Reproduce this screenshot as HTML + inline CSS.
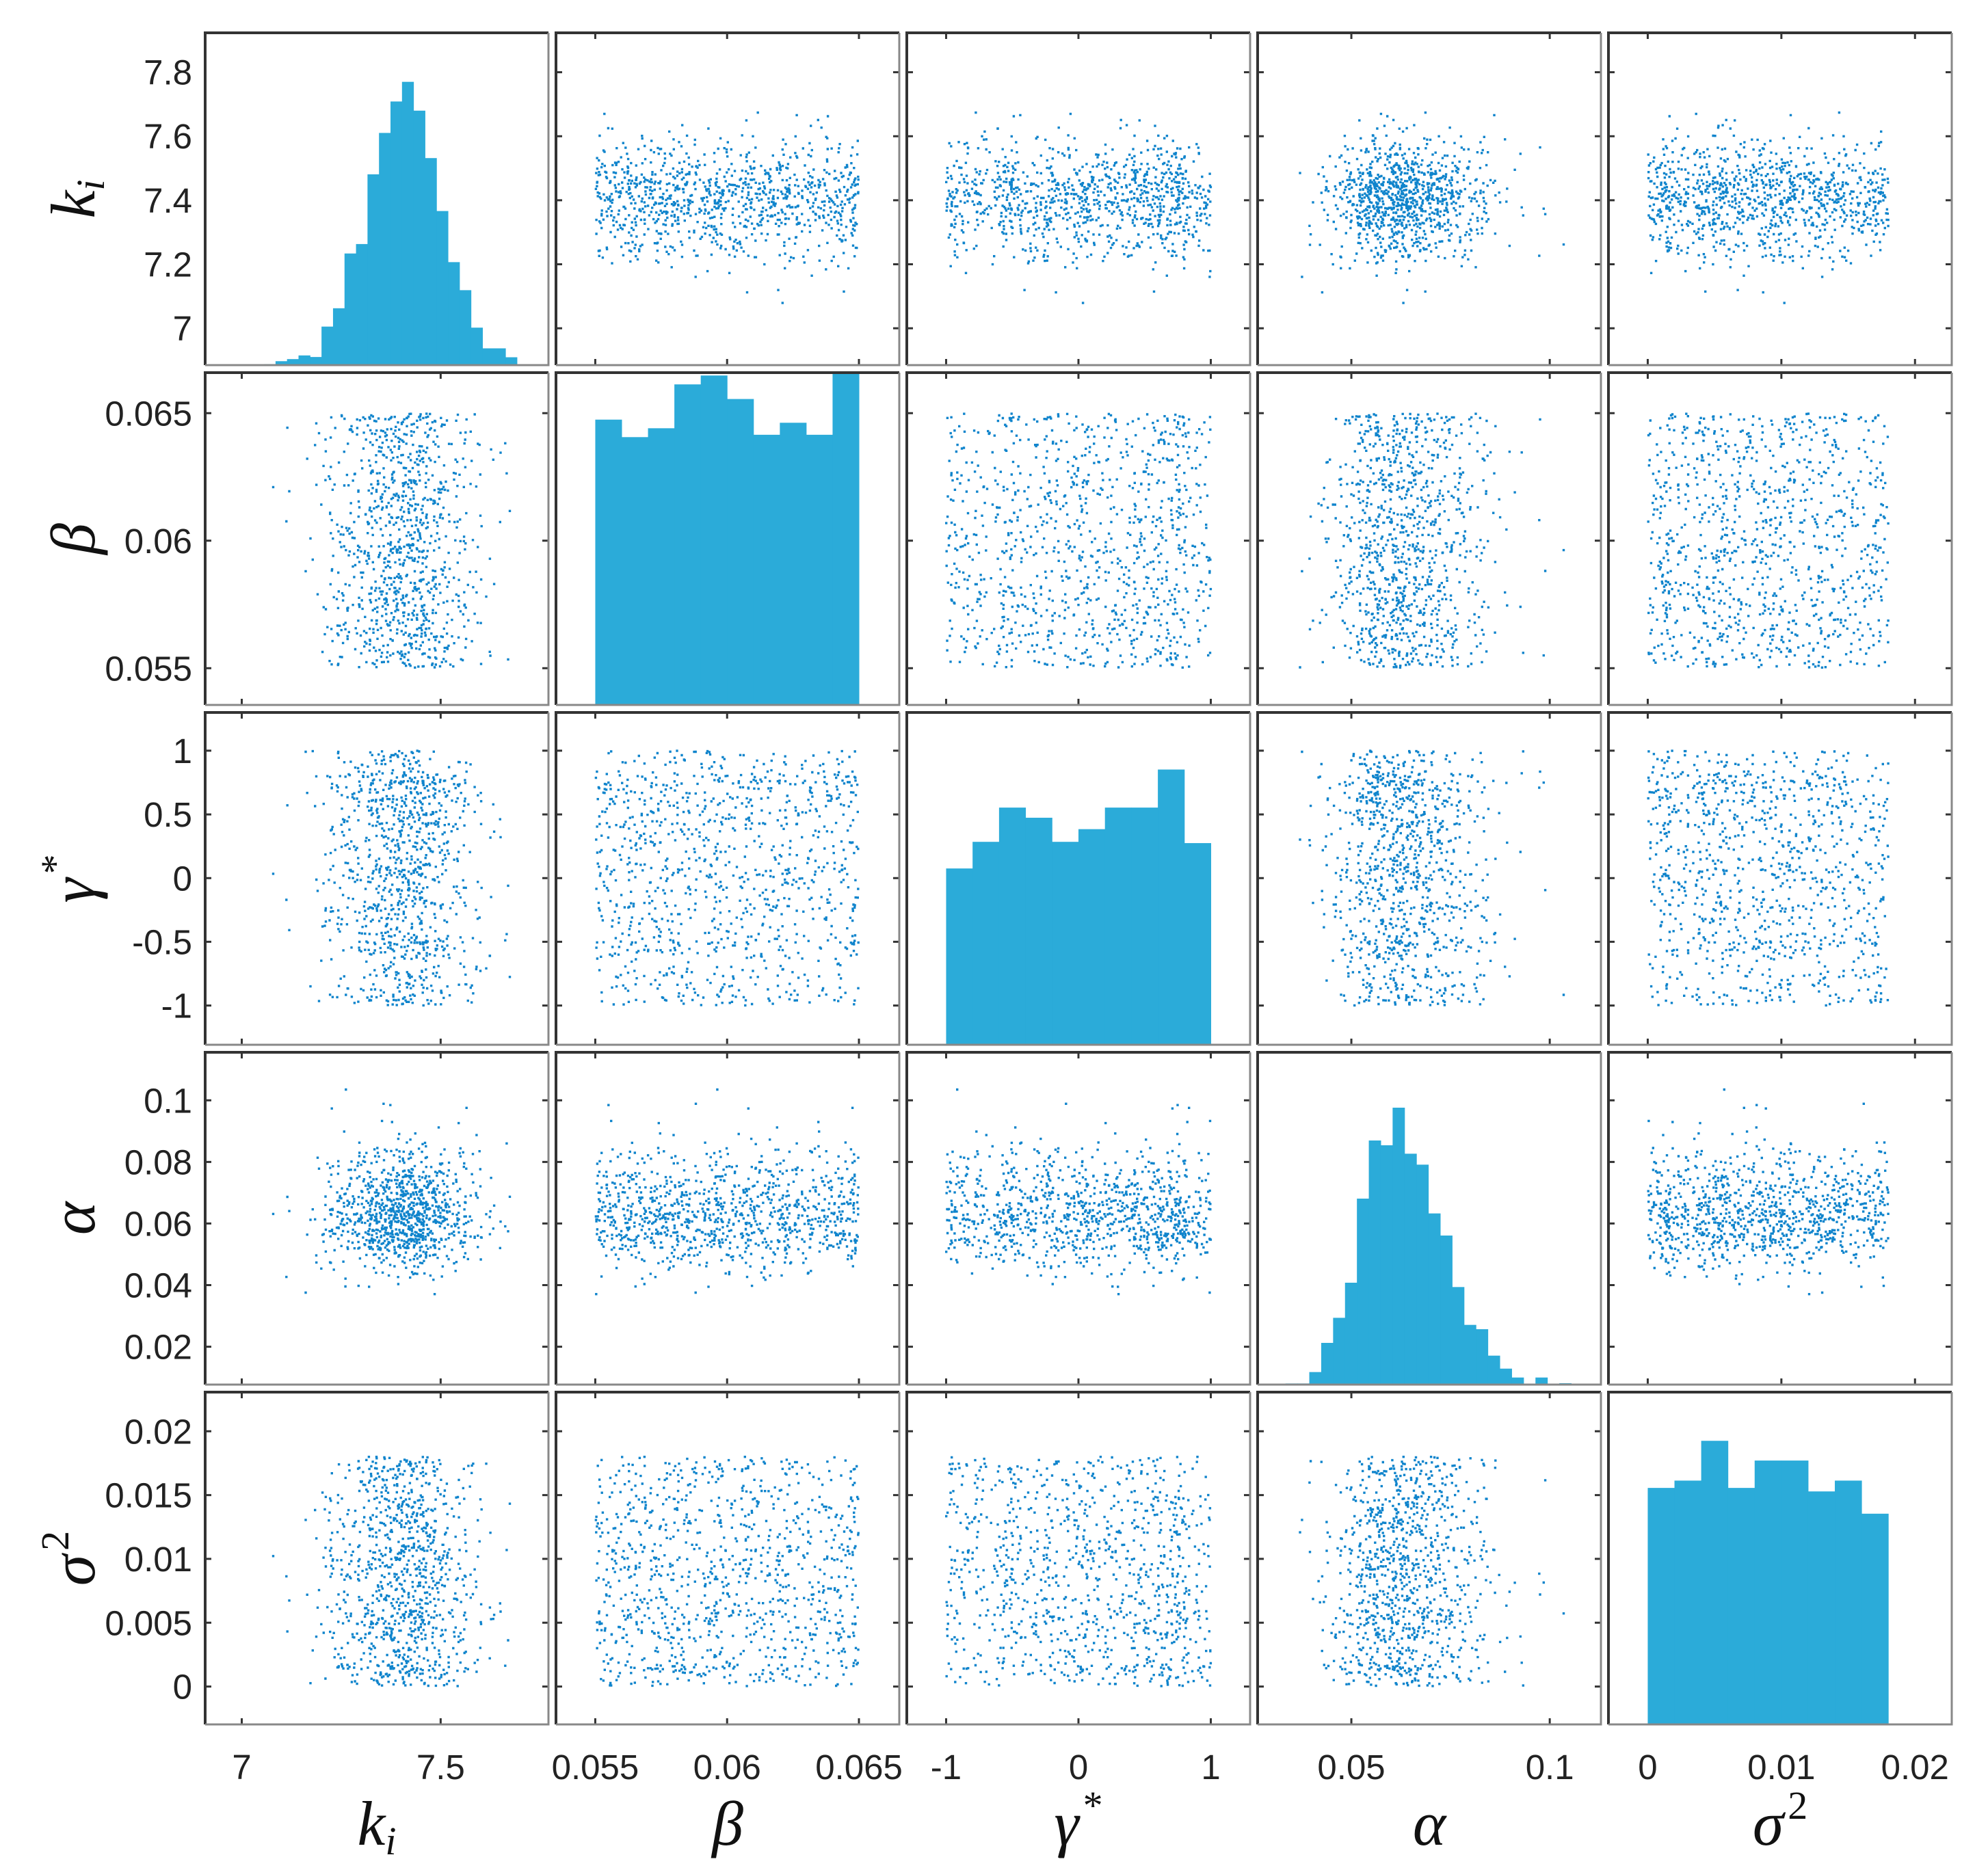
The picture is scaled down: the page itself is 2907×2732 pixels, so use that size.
<!DOCTYPE html>
<html><head><meta charset="utf-8"><style>
html,body{margin:0;padding:0;background:#fff;width:2907px;height:2732px;overflow:hidden}
svg{display:block}
.tk{font-family:"Liberation Sans",sans-serif;font-size:51px;fill:#222}
.al{font-family:"Liberation Serif",serif;font-style:italic;font-size:92px;fill:#111}
</style></head><body>
<svg id="chart" width="2907" height="2732" viewBox="0 0 2907 2732" xmlns="http://www.w3.org/2000/svg"></svg>
<script>
// ---- data ----
const varNames = ["k_i","beta","gamma","alpha","sigma2"];
const xLims = [[6.908,7.771],[0.05351,0.06653],[-1.297,1.297],[0.02638,0.1129],[-0.00294,0.02275]];
const yLims = [[6.885,7.923],[0.05356,0.06659],[-1.308,1.30],[0.0077,0.1156],[-0.00297,0.02307]];
const xTicks = [[7,7.5],[0.055,0.06,0.065],[-1,0,1],[0.05,0.1],[0,0.01,0.02]];
const xTickLabels = [["7","7.5"],["0.055","0.06","0.065"],["-1","0","1"],["0.05","0.1"],["0","0.01","0.02"]];
const yTicks = [[7,7.2,7.4,7.6,7.8],[0.055,0.06,0.065],[-1,-0.5,0,0.5,1],[0.02,0.04,0.06,0.08,0.1],[0,0.005,0.01,0.015,0.02]];
const yTickLabels = [["7","7.2","7.4","7.6","7.8"],["0.055","0.06","0.065"],["-1","-0.5","0","0.5","1"],["0.02","0.04","0.06","0.08","0.1"],["0","0.005","0.01","0.015","0.02"]];
const histStart = [7.056, 0.055, -1, 0.0334, 0];
const histWidth = [0.0289, 0.001, 0.2, 0.003, 0.002];
const histKi = [4,15,23,37,31,147,217,426,462,728,886,1006,1081,971,790,588,393,286,143,64,64,30];
const histBeta = [1093,1026,1060,1228,1262,1172,1035,1081,1035,1272];
const histGamma = [139,160,187,179,160,170,187,187,217,159];
const histAlpha = [5,5,55,183,293,447,816,1071,1050,1215,1013,965,751,654,428,262,243,127,70,31,0,31,0,6];
const histSigma = [743,766,891,743,829,829,732,766,662];
const histCounts = [histKi,histBeta,histGamma,histAlpha,histSigma];
const histMax = [1268,1273,262,1458,1044];
const nSamples = 1000;

// ---- layout ----
const NS="http://www.w3.org/2000/svg";
const svg=document.getElementById('chart');
const colL=i=>300+i*513, W=502;
const rowT=j=>48+j*497, H=486;
function sx(v,i){const l=xLims[i];return colL(i)+(v-l[0])/(l[1]-l[0])*W;}
function sy(v,j){const l=yLims[j];return rowT(j)+H-(v-l[0])/(l[1]-l[0])*H;}
function mk(t,a,p){const e=document.createElementNS(NS,t);for(const k in a)e.setAttribute(k,a[k]);(p||svg).appendChild(e);return e;}

// deterministic quantile positions (integer hash) mapped through each histogram's inverse CDF
function hashU(s,v){let h=(s*374761393+v*668265263)>>>0;h=Math.imul(h^(h>>>13),1274126177)>>>0;h=(h^(h>>>16))>>>0;h=Math.imul(h,2246822519)>>>0;h=(h^(h>>>13))>>>0;return (h%1000003)/1000003;}
function invCdf(u,v){const c=histCounts[v];let tot=0;for(const x of c)tot+=x;let acc=0;
  for(let k=0;k<c.length;k++){const p=c[k]/tot;if(acc+p>=u||k==c.length-1){const f=p>0?(u-acc)/p:0.5;return histStart[v]+(k+Math.min(Math.max(f,0),1))*histWidth[v];}acc+=p;}}
const samples=varNames.map((_,v)=>{const a=[];for(let s=0;s<nSamples;s++)a.push(invCdf(hashU(s+1,v+1),v));return a;});

for(let j=0;j<5;j++)for(let i=0;i<5;i++){
  const g=mk('g',{});
  
  
  const x0=colL(i),y0=rowT(j);
  mk('rect',{x:x0,y:y0,width:W,height:H,fill:'#fff'},g);
  if(i===j){
    const c=histCounts[i];
    for(let k=0;k<c.length;k++){
      const a=histStart[i]+k*histWidth[i], b=a+histWidth[i];
      const h=Math.min(c[k]/histMax[i],1)*H;
      if(h<=0)continue;
      const r=mk('rect',{x:sx(a,i),y:y0+H-h,width:sx(b,i)-sx(a,i)+0.5,height:h,fill:'#2babd9'},g);
      
      
    }
  } else {
    let d='';
    const xs=samples[i], ys=samples[j];
    for(let s=0;s<nSamples;s++){
      const px=sx(xs[s],i), py=sy(ys[s],j);
      d+='M'+(px-1.7).toFixed(1)+' '+(py-1.7).toFixed(1)+'h3.4v3.4h-3.4z';
    }
    const p=mk('path',{d:d,fill:'#0f84cc'},g);
    
    
    let td='';
    for(const t of xTicks[i]){const px=sx(t,i);td+='M'+px+' '+y0+'v9M'+px+' '+(y0+H)+'v-9';}
    for(const t of yTicks[j]){const py=sy(t,j);td+='M'+x0+' '+py+'h9M'+(x0+W)+' '+py+'h-9';}
    mk('path',{d:td,stroke:'#333','stroke-width':3,fill:'none'},g);
  }
  mk('path',{d:`M${x0} ${y0+H}V${y0}H${x0+W}`,stroke:'#333','stroke-width':4,fill:'none'},g);
  mk('path',{d:`M${x0+W} ${y0}V${y0+H}H${x0}`,stroke:'#888','stroke-width':3,fill:'none'},g);
}
// tick labels
for(let j=0;j<5;j++)yTicks[j].forEach((t,k)=>{
  const e=mk('text',{x:281,y:sy(t,j)+18,'text-anchor':'end',class:'tk'});e.textContent=yTickLabels[j][k];
  
  
});
for(let i=0;i<5;i++)xTicks[i].forEach((t,k)=>{
  const e=mk('text',{x:sx(t,i),y:2602,'text-anchor':'middle',class:'tk'});e.textContent=xTickLabels[i][k];
  
  
});
</script>
<script>
const labelsHTML=[
 ['k','i',null],['β',null,null],['γ',null,'*'],['α',null,null],['σ',null,'2']
];
labelsHTML.forEach((L,idx)=>{
  const make=(x,y,rot,nm)=>{
    const t=document.createElementNS(NS,'text');
    t.setAttribute('class','al');
    t.setAttribute('text-anchor','middle');
    t.setAttribute('x',x);t.setAttribute('y',y);
    if(rot)t.setAttribute('transform',`rotate(-90 ${x} ${y})`);
    
    
    const a=document.createElementNS(NS,'tspan');a.textContent=L[0];t.appendChild(a);
    if(L[1]){const s=document.createElementNS(NS,'tspan');s.setAttribute('dy','14');s.setAttribute('font-size','58');s.textContent=L[1];t.appendChild(s);}
    if(L[2]){const s=document.createElementNS(NS,'tspan');s.setAttribute('dy','-38');s.setAttribute('dx','6');s.setAttribute('font-size','58');s.setAttribute('font-style','normal');s.textContent=L[2];t.appendChild(s);}
    svg.appendChild(t);
  };
  make(colL(idx)+W/2, 2698, false, 'x-axis-title-'+varNames[idx]);
  make(138, rowT(idx)+H/2, true, 'y-axis-title-'+varNames[idx]);
});
</script>
</body></html>
